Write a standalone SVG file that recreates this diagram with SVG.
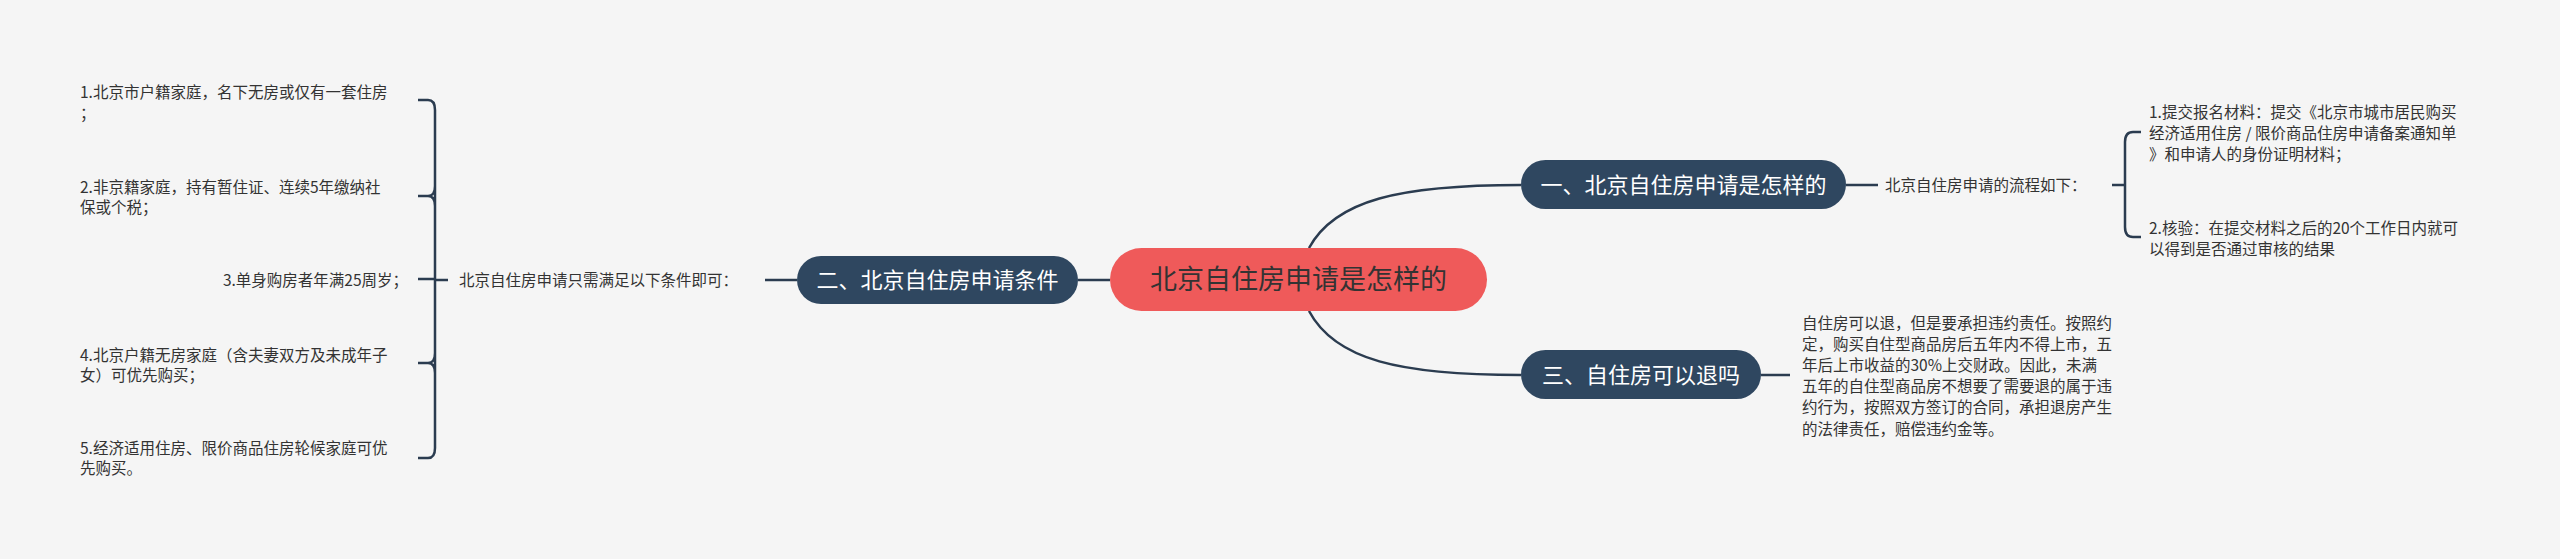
<svg xmlns="http://www.w3.org/2000/svg" width="2560" height="559" viewBox="0 0 2560 559">
<style>
.t{font-family:"Noto Sans CJK SC","Noto Sans",sans-serif;font-size:15.5px;fill:#333}
.n{font-family:"Noto Sans CJK SC","Noto Sans",sans-serif;font-size:22px;fill:#fff}
.c{fill:none;stroke:#2b3c50;stroke-width:2.5}
</style>
<rect width="2560" height="559" fill="#f5f5f5"/>
<g id="connectors" class="c">
<path d="M1309 248 C1335 200 1400 185 1521 185"/>
<path d="M1309 311 C1335 360 1400 375 1521 375"/>
<path d="M1110 280 H1078"/>
<path d="M797 280 H765"/>
<path d="M448 280 H435"/>
<path d="M418 100 H428 Q435 100 435 110 V448 Q435 458 428 458 H418 M418 196 H428 Q435 196 435 186 M435 206 Q435 196 428 196 M418 279 H435 M418 363 H428 Q435 363 435 353 M435 373 Q435 363 428 363"/>
<path d="M1846 185 H1878"/>
<path d="M2112 185 H2125"/>
<path d="M2141 132 H2133 Q2125 132 2125 142 V227 Q2125 237 2133 237 H2141"/>
<path d="M1761 375 H1790"/>
</g>
<g id="root">
<rect x="1110" y="248" width="377" height="63" rx="31.5" fill="#ef5a5a"/>
<text x="1298.5" y="289" text-anchor="middle" style="font-family:'Noto Sans CJK SC',sans-serif;font-size:27px;fill:#333">北京自住房申请是怎样的</text>
</g>
<g id="n1">
<rect x="1521" y="160" width="325" height="49" rx="24.5" fill="#2f4760"/>
<text x="1683.5" y="192.5" text-anchor="middle" class="n">一、北京自住房申请是怎样的</text>
</g>
<g id="n3">
<rect x="1521" y="350" width="240" height="49" rx="24.5" fill="#2f4760"/>
<text x="1641" y="382.5" text-anchor="middle" class="n">三、自住房可以退吗</text>
</g>
<g id="n2">
<rect x="797" y="256" width="281" height="48" rx="24" fill="#2f4760"/>
<text x="937.5" y="288" text-anchor="middle" class="n">二、北京自住房申请条件</text>
</g>
<g id="l2">
<text x="459" y="285.5" class="t">北京自住房申请只需满足以下条件即可：</text>
</g>
<g id="i1"><text x="80" y="97.5" class="t">1.北京市户籍家庭，名下无房或仅有一套住房</text><text x="80" y="118.5" class="t">；</text></g>
<g id="i2"><text x="80" y="192.5" class="t">2.非京籍家庭，持有暂住证、连续5年缴纳社</text><text x="80" y="213" class="t">保或个税；</text></g>
<g id="i3"><text x="408" y="285.5" text-anchor="end" class="t">3.单身购房者年满25周岁；</text></g>
<g id="i4"><text x="80" y="360.5" class="t">4.北京户籍无房家庭（含夫妻双方及未成年子</text><text x="80" y="381" class="t">女）可优先购买；</text></g>
<g id="i5"><text x="80" y="453.5" class="t">5.经济适用住房、限价商品住房轮候家庭可优</text><text x="80" y="474" class="t">先购买。</text></g>
<g id="l1"><text x="1885" y="190.5" class="t">北京自住房申请的流程如下：</text></g>
<g id="r1"><text x="2149" y="117.5" class="t">1.提交报名材料：提交《北京市城市居民购买</text><text x="2149" y="138.5" class="t">经济适用住房 / 限价商品住房申请备案通知单</text><text x="2149" y="159.5" class="t">》和申请人的身份证明材料；</text></g>
<g id="r2"><text x="2149" y="233.5" class="t">2.核验：在提交材料之后的20个工作日内就可</text><text x="2149" y="254.5" class="t">以得到是否通过审核的结果</text></g>
<g id="r3">
<text x="1802" y="328.5" class="t">自住房可以退，但是要承担违约责任。按照约</text>
<text x="1802" y="349.5" class="t">定，购买自住型商品房后五年内不得上市，五</text>
<text x="1802" y="371" class="t">年后上市收益的30%上交财政。因此，未满</text>
<text x="1802" y="392" class="t">五年的自住型商品房不想要了需要退的属于违</text>
<text x="1802" y="413" class="t">约行为，按照双方签订的合同，承担退房产生</text>
<text x="1802" y="434.5" class="t">的法律责任，赔偿违约金等。</text>
</g>
</svg>
